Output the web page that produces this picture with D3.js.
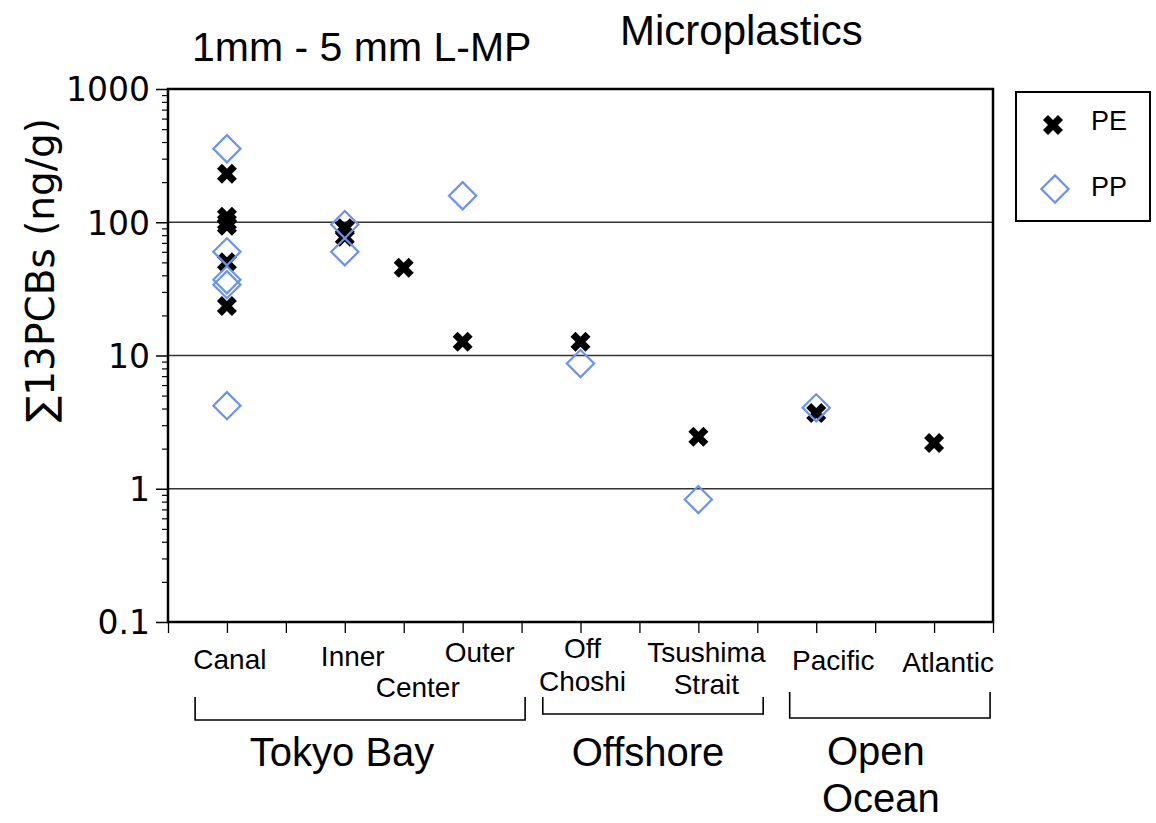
<!DOCTYPE html>
<html>
<head>
<meta charset="utf-8">
<script src="https://cdn.jsdelivr.net/npm/d3@7"></script>
<style>
  body { margin: 0; background: #fff; }
  .lab { font-family: "Liberation Sans", Arial, sans-serif; fill: #000; }
  .num { font-family: "DejaVu Sans", sans-serif; fill: #000; }
</style>
</head>
<body>
<svg id="chart" width="1156" height="823"></svg>
<script>
// sites along the x axis and their slot on the 0..14 tick grid
const sites = ['Canal', 'Inner', 'Center', 'Outer', 'Off Choshi', 'Tsushima Strait', 'Pacific', 'Atlantic']
const siteSlot = [1, 3, 4, 5, 7, 9, 11, 13]

// ∑13PCBs (ng/g), one list per site
const peValues = [
    [231, 110, 100, 94, 50, 23.5],
    [90, 78],
    [45.5],
    [12.7],
    [12.7],
    [2.46],
    [3.7],
    [2.2]
]
const ppValues = [
    [356, 60, 37, 34, 4.2],
    [96, 60],
    [],
    [158],
    [8.7],
    [0.83],
    [4.05],
    []
]

const yMajor = [0.1, 1, 10, 100, 1000]
const yMajorLabels = ['0.1', '1', '10', '100', '1000']
const gridValues = [1, 10, 100]

const groups = ['Tokyo Bay', 'Offshore', 'Open Ocean']
const groupSpan = [[0.46, 6.06], [6.36, 10.1], [10.55, 13.95]]

const ppColor = '#6b93ee'

const svg = d3.select('#chart')
const plotLeft = 168, plotRight = 993, plotTop = 89, plotBottom = 622

const x = d3.scaleLinear().domain([0, 14]).range([plotLeft, plotRight])
const y = d3.scaleLog().domain([0.1, 1000]).range([plotBottom, plotTop])

// grid lines
svg.append('g')
    .selectAll('line')
    .data(gridValues)
    .enter()
    .append('line')
    .attr('x1', plotLeft)
    .attr('x2', plotRight)
    .attr('y1', (d) => y(d))
    .attr('y2', (d) => y(d))
    .attr('stroke', '#333')
    .attr('stroke-width', 1.4)

// minor y ticks
const yMinor = []
yMajor.slice(0, -1).forEach((m) => {
    for (let k = 2; k <= 9; k++) yMinor.push(m * k)
})
const yMinorAxis = svg.append('g')
    .attr('transform', `translate(${plotLeft},0)`)
    .call(d3.axisLeft(y).tickValues(yMinor).tickSize(6).tickFormat(''))
yMinorAxis.select('.domain').remove()
yMinorAxis.selectAll('line').attr('stroke-width', 1.2)

const yAxis = svg.append('g')
    .attr('transform', `translate(${plotLeft},0)`)
    .call(d3.axisLeft(y).tickValues(yMajor).tickSize(12).tickPadding(6)
        .tickFormat((d, i) => yMajorLabels[i]))
yAxis.select('.domain').remove()
yAxis.selectAll('line').attr('stroke-width', 1.5)
yAxis.selectAll('text')
    .attr('class', 'num')
    .style('font-size', '33px')
    .attr('dy', '0.36em')
yAxis.attr('font-family', null).attr('font-size', null)

// x ticks
const xAxis = svg.append('g')
    .attr('transform', `translate(0,${plotBottom})`)
    .call(d3.axisBottom(x).tickValues(d3.range(0, 15)).tickSize(11).tickFormat(''))
xAxis.select('.domain').remove()
xAxis.selectAll('line').attr('stroke-width', 1.3)

// frame
svg.append('rect')
    .attr('x', plotLeft)
    .attr('y', plotTop)
    .attr('width', plotRight - plotLeft)
    .attr('height', plotBottom - plotTop)
    .attr('fill', 'none')
    .attr('stroke', '#000')
    .attr('stroke-width', 2.5)

// markers
const cross = d3.symbol().type(d3.symbolCross).size(250)
const diamond = d3.symbol().type(d3.symbolSquare).size(370)

const pePoints = peValues.flatMap((vals, i) => vals.map((v) => ({ slot: siteSlot[i], v })))
const ppPoints = ppValues.flatMap((vals, i) => vals.map((v) => ({ slot: siteSlot[i], v })))

svg.append('g')
    .selectAll('path')
    .data(pePoints)
    .enter()
    .append('path')
    .attr('d', cross)
    .attr('transform', (d) => `translate(${x(d.slot)},${y(d.v)}) rotate(45)`)
    .attr('fill', '#000')

svg.append('g')
    .selectAll('path')
    .data(ppPoints)
    .enter()
    .append('path')
    .attr('d', diamond)
    .attr('transform', (d) => `translate(${x(d.slot)},${y(d.v)}) rotate(45)`)
    .attr('fill', 'none')
    .attr('stroke', ppColor)
    .attr('stroke-width', 2.2)

// category labels (lines, dx, baselines)
const siteLabelLayout = [
    { lines: ['Canal'], dx: 3, ys: [669] },
    { lines: ['Inner'], dx: 8, ys: [666] },
    { lines: ['Center'], dx: 14, ys: [697] },
    { lines: ['Outer'], dx: 17, ys: [662] },
    { lines: ['Off', 'Choshi'], dx: 2, ys: [658, 691] },
    { lines: ['Tsushima', 'Strait'], dx: 8, ys: [662, 694] },
    { lines: ['Pacific'], dx: 17, ys: [670] },
    { lines: ['Atlantic'], dx: 14, ys: [672] }
]
siteLabelLayout.forEach((l, i) => {
    l.lines.forEach((t, j) => {
        svg.append('text')
            .attr('class', 'lab')
            .attr('x', x(siteSlot[i]) + l.dx)
            .attr('y', l.ys[j])
            .attr('text-anchor', 'middle')
            .style('font-size', '28px')
            .text(t)
    })
})

// group brackets
const bracketY = [[697, 720], [697, 714], [692, 718]]
const groupLabelY = [[766], [766], [765, 812]]
const groupLabelDx = [[-18], [-5], [-14, -9]]
groups.forEach((g, i) => {
    const [a, b] = groupSpan[i]
    const [y0, y1] = bracketY[i]
    svg.append('path')
        .attr('d', `M${x(a)},${y0}V${y1}H${x(b)}V${y0}`)
        .attr('fill', 'none')
        .attr('stroke', '#000')
        .attr('stroke-width', 1.6)
    const words = g === 'Open Ocean' ? ['Open', 'Ocean'] : [g]
    words.forEach((w, j) => {
        svg.append('text')
            .attr('class', 'lab')
            .attr('x', (x(a) + x(b)) / 2 + groupLabelDx[i][j])
            .attr('y', groupLabelY[i][j])
            .attr('text-anchor', 'middle')
            .style('font-size', '40px')
            .text(w)
    })
})

// titles
svg.append('text')
    .attr('class', 'lab')
    .attr('x', 192)
    .attr('y', 61)
    .style('font-size', '41px')
    .text('1mm - 5 mm L-MP')

svg.append('text')
    .attr('class', 'lab')
    .attr('x', 620)
    .attr('y', 45)
    .style('font-size', '42px')
    .text('Microplastics')

// y label
svg.append('text')
    .attr('class', 'num')
    .attr('transform', 'translate(54,270) rotate(-90)')
    .attr('text-anchor', 'middle')
    .style('font-size', '39px')
    .text('∑13PCBs (ng/g)')

// legend
const legend = svg.append('g')
legend.append('rect')
    .attr('x', 1016)
    .attr('y', 92)
    .attr('width', 134)
    .attr('height', 129)
    .attr('fill', 'none')
    .attr('stroke', '#000')
    .attr('stroke-width', 2)
legend.append('path')
    .attr('d', cross)
    .attr('transform', 'translate(1053,125) rotate(45)')
    .attr('fill', '#000')
legend.append('path')
    .attr('d', diamond)
    .attr('transform', 'translate(1055,189) rotate(45)')
    .attr('fill', 'none')
    .attr('stroke', ppColor)
    .attr('stroke-width', 2.2)
legend.append('text')
    .attr('class', 'lab')
    .attr('x', 1091)
    .attr('y', 130)
    .style('font-size', '27px')
    .text('PE')
legend.append('text')
    .attr('class', 'lab')
    .attr('x', 1091)
    .attr('y', 196)
    .style('font-size', '27px')
    .text('PP')
</script>
</body>
</html>
